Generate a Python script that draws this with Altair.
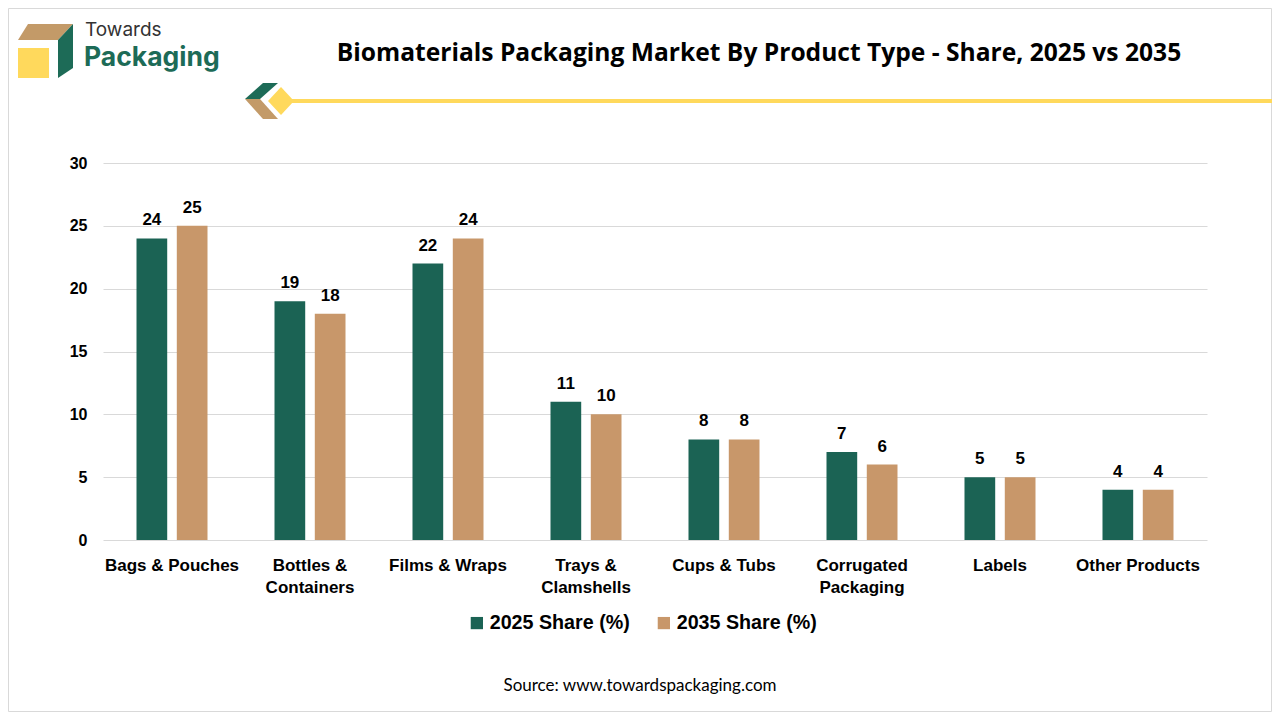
import altair as alt
import pandas as pd

categories = ["Bags & Pouches", "Bottles & Containers", "Films & Wraps", "Trays & Clamshells",
              "Cups & Tubs", "Corrugated Packaging", "Labels", "Other Products"]
label_lines = [["Bags & Pouches"], ["Bottles &", "Containers"], ["Films & Wraps"],
               ["Trays &", "Clamshells"], ["Cups & Tubs"], ["Corrugated", "Packaging"],
               ["Labels"], ["Other Products"]]
series = ["2025 Share (%)", "2035 Share (%)"]
share_2025 = [24, 19, 22, 11, 8, 7, 5, 4]
share_2035 = [25, 18, 24, 10, 8, 6, 5, 4]
colors = ["#1B6354", "#C8976A"]
y_ticks = [0, 5, 10, 15, 20, 25, 30]

rows = []
for c, a, b in zip(categories, share_2025, share_2035):
    rows.append({"Product": c, "Series": series[0], "Share": a})
    rows.append({"Product": c, "Series": series[1], "Share": b})
df = pd.DataFrame(rows)

# multi-line axis labels
expr = "datum.label"
for c, lines in zip(categories, label_lines):
    if len(lines) > 1:
        arr = "[" + ",".join("'" + l + "'" for l in lines) + "]"
        expr = f"datum.label == '{c}' ? {arr} : (" + expr + ")"

AX_FONT = "Liberation Sans"
OX, OY = 103, 163  # plot origin in page coordinates (for decorations)

x_enc = alt.X("Product:N", sort=categories, title=None,
              scale=alt.Scale(paddingInner=0.4855, paddingOuter=0.2428),
              axis=alt.Axis(labelAngle=0, labelFont=AX_FONT, labelFontWeight="bold",
                            labelFontSize=17, labelColor="#000000", labelPadding=17,
                            labelLineHeight=22, labelExpr=expr, domain=False, ticks=False))
y_enc = alt.Y("Share:Q", title=None,
              scale=alt.Scale(domain=[0, 30]),
              axis=alt.Axis(values=y_ticks, labelFont=AX_FONT, labelFontWeight="bold",
                            labelFontSize=16, labelColor="#000000", labelPadding=16,
                            domain=False, ticks=False, gridColor="#D9D9D9", grid=True))
xoff = alt.XOffset("Series:N", sort=series, scale=alt.Scale(paddingInner=0.238))

bars = alt.Chart(df).mark_bar().encode(
    x=x_enc, y=y_enc, xOffset=xoff,
    color=alt.Color("Series:N", sort=series, scale=alt.Scale(domain=series, range=colors),
                    legend=alt.Legend(title=None, orient="none", direction="horizontal",
                                      legendX=364, legendY=450, symbolType="square",
                                      symbolSize=150, symbolStrokeWidth=0,
                                      labelFont=AX_FONT, labelFontWeight="bold",
                                      labelFontSize=19.7, labelColor="#000000",
                                      labelOffset=3, columnPadding=24)),
)

labels = alt.Chart(df).mark_text(font=AX_FONT, fontWeight="bold", fontSize=17,
                                 color="#000000", baseline="alphabetic", dy=-13).encode(
    x=alt.X("Product:N", sort=categories), y="Share:Q", xOffset=xoff, text="Share:Q")

one = alt.Data(values=[{"k": 1}])


def shape(path, color):
    return alt.Chart(one).mark_point(shape=path, filled=True, size=4, strokeWidth=0,
                                     opacity=1, color=color).encode(
        x=alt.value(-OX), y=alt.value(-OY))


def text(t, px, py, **kw):
    return alt.Chart(one).mark_text(**kw).encode(
        x=alt.value(px - OX), y=alt.value(py - OY), text=alt.value(t))


logo = [
    shape("M28,24 L73,24 L58,40 L18,40 Z", "#C39A68"),
    shape("M58,40 L73,24 L73,68 L58,78 Z", "#1D6B57"),
    shape("M18,48 L49,48 L49,78 L18,78 Z", "#FFD95C"),
    shape("M245,99 L263,83 L278,83 L260,99 Z", "#1D6B57"),
    shape("M245,99 L260,99 L278,119 L263,119 Z", "#C39A68"),
    shape("M281,87 L294,101 L281,115 L268,101 Z", "#FFD95C"),
]
line = alt.Chart(one).mark_rule(color="#FFD95C", strokeWidth=4).encode(
    x=alt.value(290 - OX), x2=alt.value(1272 - OX), y=alt.value(101 - OY))

texts = [
    text("Towards", 85, 36, font="Inter", fontSize=19, color="#333333", align="left",
         baseline="alphabetic"),
    text("Packaging", 84, 66, font="Inter", fontSize=26.5, fontWeight="bold", color="#1D6B57",
         align="left", baseline="alphabetic"),
    text("Biomaterials Packaging Market By Product Type - Share, 2025 vs 2035", 759, 54,
         font="Open Sans", fontSize=24.6, fontWeight="bold", color="#000000", align="center",
         baseline="middle"),
    text("Source: www.towardspackaging.com", 640, 686, font="Lato", fontSize=17,
         color="#000000", align="center", baseline="middle"),
]

border = alt.Chart(one).mark_rect(fill="transparent", stroke="#D9D9D9", strokeWidth=1).encode(
    x=alt.value(8.5 - OX), x2=alt.value(1271.5 - OX),
    y=alt.value(8.5 - OY), y2=alt.value(711.5 - OY))

chart = alt.layer(border, bars, labels, *logo, line, *texts).properties(
    width=1104, height=377,
    padding={"left": 95, "top": 155, "right": 65, "bottom": 172},
    autosize=alt.AutoSizeParams(type="none"),
    background="#FFFFFF",
).configure_view(stroke=None)

chart.save("out.html", embed_options={"renderer": "svg", "actions": False})
